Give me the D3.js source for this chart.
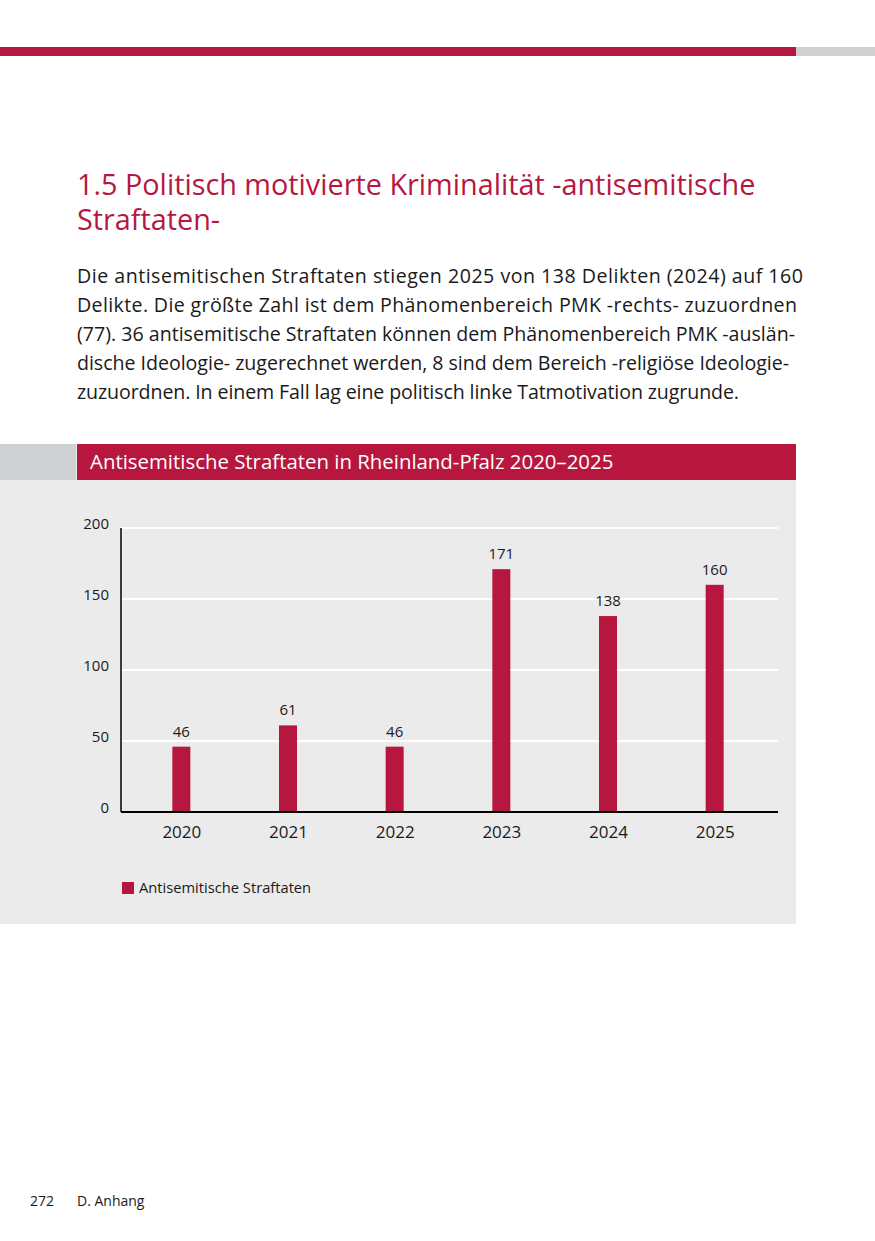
<!DOCTYPE html>
<meta charset="utf-8">
<style>
body {
  margin: 0;
  background: #fff;
  font-family: "Open Sans", "Noto Sans", sans-serif;
}
.grid line {
  stroke: #fff;
  stroke-width: 2px;
  shape-rendering: crispEdges;
}
.tick text {
  fill: #1a1a1a;
}
</style>
<body>
<script src="https://cdn.jsdelivr.net/npm/d3@7"></script>
<script>
// data
var years = ["2020", "2021", "2022", "2023", "2024", "2025"];
var values = [46, 61, 46, 171, 138, 160];
var yTicks = [0, 50, 100, 150, 200];
var seriesName = "Antisemitische Straftaten";

var titleLines = ["1.5 Politisch motivierte Kriminalität -antisemitische", "Straftaten-"];
var bodyLines = [
  "Die antisemitischen Straftaten stiegen 2025 von 138 Delikten (2024) auf 160",
  "Delikte. Die größte Zahl ist dem Phänomenbereich PMK -rechts- zuzuordnen",
  "(77). 36 antisemitische Straftaten können dem Phänomenbereich PMK -auslän-",
  "dische Ideologie- zugerechnet werden, 8 sind dem Bereich -religiöse Ideologie-",
  "zuzuordnen. In einem Fall lag eine politisch linke Tatmotivation zugrunde."
];
var bodyWidths = [726, 720, 718, 712, 662];
var chartTitle = "Antisemitische Straftaten in Rheinland-Pfalz 2020–2025";

var red = "#b7173f";

var svg = d3.select("body").append("svg")
    .attr("width", 875)
    .attr("height", 1241);

// page rule at the top
svg.append("rect").attr("x", 0).attr("y", 47).attr("width", 796).attr("height", 9).attr("fill", red);
svg.append("rect").attr("x", 796).attr("y", 47).attr("width", 79).attr("height", 9).attr("fill", "#d0d0d0");

// heading
svg.selectAll("text.title")
    .data(titleLines)
  .enter().append("text")
    .attr("class", "title")
    .attr("x", 77)
    .attr("y", function(d, i) { return 195 + i * 35; })
    .attr("font-size", "28.8px")
    .attr("fill", red)
    .text(function(d) { return d; });

// paragraph, justified line by line
svg.selectAll("text.body")
    .data(bodyLines)
  .enter().append("text")
    .attr("class", "body")
    .attr("x", 77)
    .attr("y", function(d, i) { return 283 + i * 29; })
    .attr("font-size", "19.6px")
    .attr("fill", "#1a1a1a")
    .attr("textLength", function(d, i) { return bodyWidths[i]; })
    .attr("lengthAdjust", "spacing")
    .text(function(d) { return d; });

// chart panel
svg.append("rect").attr("x", 0).attr("y", 444).attr("width", 796).attr("height", 480).attr("fill", "#ebebeb");
svg.append("rect").attr("x", 0).attr("y", 444).attr("width", 76).attr("height", 36).attr("fill", "#cfd0d2");
svg.append("rect").attr("x", 77).attr("y", 444).attr("width", 719).attr("height", 36).attr("fill", red);
svg.append("text")
    .attr("x", 90)
    .attr("y", 469)
    .attr("font-size", "20.4px")
    .attr("fill", "#fff")
    .text(chartTitle);

// chart area
var plotLeft = 121, plotRight = 778, plotTop = 528, plotBottom = 812;

var x = d3.scalePoint().domain(years).range([128, 768]).padding(0.5);
var y = d3.scaleLinear().domain([0, 200]).range([plotBottom, plotTop]);

// gridlines
svg.append("g")
    .attr("class", "grid")
  .selectAll("line")
    .data(yTicks.slice(1))
  .enter().append("line")
    .attr("x1", plotLeft)
    .attr("x2", plotRight)
    .attr("y1", function(d) { return y(d); })
    .attr("y2", function(d) { return y(d); });

// y axis labels
var yAxis = svg.append("g")
    .attr("transform", "translate(" + plotLeft + ",0)")
    .call(d3.axisLeft(y).tickValues(yTicks).tickSize(0).tickPadding(12));
yAxis.select(".domain").remove();
yAxis.selectAll("text")
    .attr("font-family", "Open Sans, sans-serif")
    .attr("font-size", "15px")
    .attr("dy", "0.05em");

// y axis line
svg.append("line")
    .attr("x1", plotLeft).attr("x2", plotLeft)
    .attr("y1", plotTop).attr("y2", plotBottom)
    .attr("stroke", "#000")
    .attr("stroke-width", 1.5);

// bars
svg.selectAll("rect.bar")
    .data(values)
  .enter().append("rect")
    .attr("class", "bar")
    .attr("x", function(d, i) { return x(years[i]) - 9; })
    .attr("y", function(d) { return y(d); })
    .attr("width", 18)
    .attr("height", function(d) { return plotBottom - y(d); })
    .attr("fill", red);

// value labels
svg.selectAll("text.val")
    .data(values)
  .enter().append("text")
    .attr("class", "val")
    .attr("x", function(d, i) { return x(years[i]); })
    .attr("y", function(d) { return y(d) - 10; })
    .attr("text-anchor", "middle")
    .attr("font-size", "15px")
    .attr("fill", "#1a1a1a")
    .text(function(d) { return d; });

// x axis
var xAxis = svg.append("g")
    .attr("transform", "translate(0," + plotBottom + ")")
    .call(d3.axisBottom(x).tickSize(0).tickPadding(14));
xAxis.select(".domain").remove();
xAxis.selectAll("text")
    .attr("font-family", "Open Sans, sans-serif")
    .attr("font-size", "17px");
svg.append("line")
    .attr("x1", plotLeft).attr("x2", plotRight)
    .attr("y1", plotBottom).attr("y2", plotBottom)
    .attr("stroke", "#000")
    .attr("stroke-width", 2);

// legend
svg.append("rect").attr("x", 122).attr("y", 882).attr("width", 12).attr("height", 12).attr("fill", red);
svg.append("text")
    .attr("x", 139)
    .attr("y", 893)
    .attr("font-size", "14.7px")
    .attr("fill", "#1a1a1a")
    .text(seriesName);

// footer
svg.append("text").attr("x", 30).attr("y", 1206).attr("font-size", "14px").attr("fill", "#1a1a1a").text("272");
svg.append("text").attr("x", 77).attr("y", 1206).attr("font-size", "14px").attr("fill", "#1a1a1a").text("D. Anhang");
</script>
</body>
